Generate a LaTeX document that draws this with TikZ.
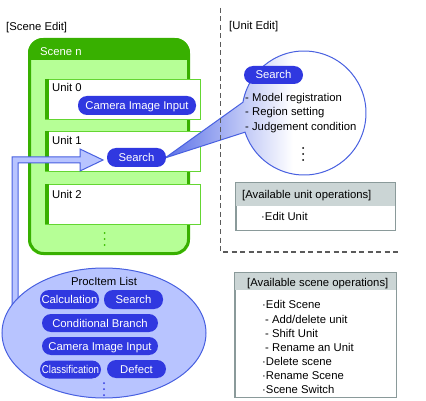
\documentclass[tikz,border=0pt]{standalone}
\usepackage{fontspec}
\setmainfont{Liberation Sans}
\usetikzlibrary{shapes.geometric,calc}
\definecolor{pillblue}{RGB}{48,56,224}
\definecolor{lightblue}{RGB}{184,196,255}
\definecolor{strokeblue}{RGB}{72,96,224}
\definecolor{wblue}{RGB}{90,112,232}
\definecolor{darkgreen}{RGB}{56,176,0}
\definecolor{lightgreen}{RGB}{182,255,150}
\definecolor{unitborder}{RGB}{100,214,50}
\definecolor{grayhead}{RGB}{203,213,213}
\definecolor{grayborder}{RGB}{138,154,154}
\definecolor{dashgray}{RGB}{90,90,90}
\definecolor{dotgreen}{RGB}{60,190,0}
\pgfdeclarehorizontalshading{callout}{100bp}{color(0bp)=(wblue); color(25bp)=(wblue); color(56bp)=(white); color(100bp)=(white)}
\begin{document}
\begin{tikzpicture}[x=1pt,y=-1pt,
  font=\fontsize{11.3}{13}\selectfont,
  txt/.style={inner sep=0pt, anchor=base west},
  pill/.style={fill=pillblue, text=white, rounded corners=9pt, inner sep=0pt,
    minimum height=19pt, text height=8pt, text depth=0pt},
  unitbox/.style={draw=unitborder, fill=white, line width=0.8pt, inner sep=0pt,
    minimum width=155pt, minimum height=40pt},
  opsbox/.style={draw=grayborder, line width=0.8pt, inner sep=0pt}]
\useasboundingbox (0,0) rectangle (426,401);

% titles
\node[txt] (tscene) at (6,31) {[Scene Edit]};
\node[txt] (tunit) at (229,30) {[Unit Edit]};

% scene box
\begin{scope}
  \clip[rounded corners=15pt] (28,38) rectangle (190,255);
  \fill[lightgreen] (28,38) rectangle (190,255);
  \fill[darkgreen] (28,38) rectangle (190,60);
\end{scope}
\draw[darkgreen, line width=3pt, rounded corners=14pt] (29.5,39.5) rectangle (188.5,253.5);
\node[txt, text=white] (scenen) at (40,56) {Scene n};

% units
\node[unitbox] (u0) at (122.5,99) {};
\node[unitbox] (u1) at (122.5,151) {};
\node[unitbox] (u2) at (122.5,204) {};
\foreach \u in {u0,u1,u2}{
  \fill[darkgreen] (\u.north west) rectangle ([xshift=4.5pt]\u.south west);
}
\node[txt] (lu0) at (52,92) {Unit 0};
\node[txt] (lu1) at (52,145) {Unit 1};
\node[txt] (lu2) at (52,198) {Unit 2};
\foreach \yy in {233,239,245}{\fill[dotgreen] (104.5,\yy) circle (1pt);}

% callout wedge + circle
\coordinate (tip) at (165,158);
\coordinate (cc) at (304,113);
\shade[shading=callout, draw=strokeblue, line width=1pt]
  (tip) -- ($(cc)+(190:62)$) arc[start angle=190, end angle=522, radius=62] -- cycle;

% dashed separators
\draw[dashgray, line width=1.2pt, dash pattern=on 5pt off 3.5pt]
  (220.5,8) -- (220.5,252) -- (400,252);

% fat arrow from ProcItem list to Search
\filldraw[fill=lightblue, draw=strokeblue, line width=1pt]
  (12,310) -- (12,157) -- (80,157) -- (80,149) -- (103,160) -- (80,171) -- (80,163) -- (18,163) -- (18,310);

% pills in scene
\node[pill, minimum width=118pt] (cam0) at (137,105.5) {Camera Image Input};
\node[pill, minimum width=59pt] (s1) at (136.5,157.5) {Search};

% circle contents
\node[pill, minimum width=59pt, minimum height=18pt] (s2) at (273.5,75) {Search};
\node[txt] (l1) at (245,102) {- Model registration};
\node[txt] (l2) at (245,116) {- Region setting};
\node[txt] (l3) at (245,131) {- Judgement condition};
\foreach \yy in {148,154,160}{\fill[black] (303,\yy) circle (1pt);}

% ProcItem list ellipse
\node[ellipse, draw=strokeblue, fill=lightblue, line width=1pt, inner sep=0pt,
  minimum width=204pt, minimum height=130pt] (proc) at (104,333) {};
\node[inner sep=0pt, text height=8pt, text depth=0pt] (proct) at (104,281) {ProcItem List};
\node[pill, minimum width=59pt] (p1) at (69.5,299.5) {Calculation};
\node[pill, minimum width=59pt] (p2) at (133.5,299.5) {Search};
\node[pill, minimum width=116pt, minimum height=18pt] (p3) at (100,323) {Conditional Branch};
\node[pill, minimum width=116pt, minimum height=18pt] (p4) at (100,346) {Camera Image Input};
\node[pill, minimum width=61pt, minimum height=18pt] (p5) at (70.5,369.5) {\scalebox{0.86}[1]{Classification}};
\node[pill, minimum width=59pt, minimum height=18pt] (p6) at (136.5,369) {Defect};
\foreach \yy in {383,389,395}{\fill[pillblue] (104,\yy) circle (1pt);}

% available unit operations
\node[opsbox, fill=white, minimum width=159pt, minimum height=47pt] (uops) at (315.5,206.5) {};
\fill[grayhead] ([shift={(0.4pt,-0.4pt)}]uops.north west) rectangle (394.6,206);
\draw[grayborder, line width=0.8pt] (uops.north west) rectangle (uops.south east);
\node[txt] (uopsh) at (242,199) {[Available unit operations]};
\node[txt] (uops1) at (261,221) {·Edit Unit};

% available scene operations
\node[opsbox, fill=white, minimum width=161pt, minimum height=124pt] (sops) at (315.5,335) {};
\fill[grayhead] ([shift={(0.4pt,-0.4pt)}]sops.north west) rectangle (395.6,290);
\draw[grayborder, line width=0.8pt] (sops.north west) rectangle (sops.south east);
\node[txt] (sopsh) at (247,286) {[Available scene operations]};
\node[txt] (so1) at (262,308) {·Edit Scene};
\node[txt] (so2) at (265,323) {- Add/delete unit};
\node[txt] (so3) at (265,337) {- Shift Unit};
\node[txt] (so4) at (265,351) {- Rename an Unit};
\node[txt] (so5) at (262,365) {·Delete scene};
\node[txt] (so6) at (262,379) {·Rename Scene};
\node[txt] (so7) at (262,393) {·Scene Switch};
\end{tikzpicture}
\end{document}
